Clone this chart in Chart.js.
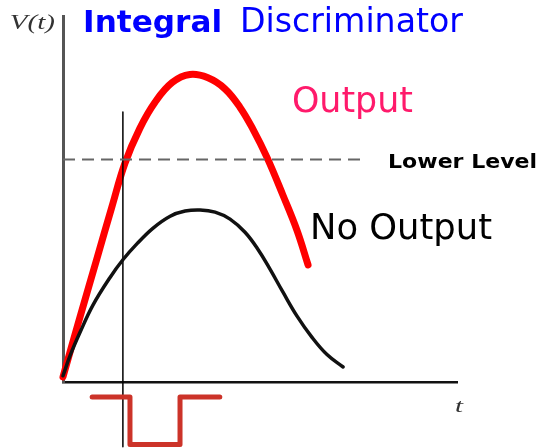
<!DOCTYPE html>
<html>
<head>
<meta charset="utf-8">
<script src="https://cdn.jsdelivr.net/npm/chart.js@4/dist/chart.umd.min.js"></script>
<style>
  html, body { margin: 0; padding: 0; background: #fff; }
  canvas { display: block; }
</style>
</head>
<body>
<canvas id="disc" width="540" height="448"></canvas>
<script>
// time axis 0..100, voltage axis 0..100 (schematic units)
const bigT = [0, 4.3, 8.6, 12.4, 15.7, 19.5, 23.4, 27.7, 32.2, 36.8, 41.1, 44.9, 48.2, 51.8, 55.8, 59.4, 62.2];
const bigV = [1.4, 17.7, 33.7, 47.8, 59.7, 69.3, 76.5, 81.8, 84.0, 83.1, 80.1, 75.1, 69.1, 61.3, 51.1, 41.4, 32.0];

const smallT = [0, 1.8, 4.3, 7.6, 11.9, 15.2, 18.8, 22.8, 27.2, 31.0, 34.8, 38.6, 42.4, 46.2, 49.5, 52.5, 55.8, 59.4, 63.2, 67.0, 71.1];
const smallV = [1.7, 7.2, 13.5, 21.0, 28.5, 33.4, 37.8, 42.0, 45.3, 46.7, 47.0, 46.4, 44.5, 40.9, 36.2, 30.9, 24.6, 18.0, 12.2, 7.5, 4.1];

const levelT = [0, 76.6];
const levelV = [60.8, 60.8];

const markerT = [15.2, 15.2];
const markerV = [73.8, -17.7];

const gateT = [7.4, 17.0, 17.0, 29.7, 29.7, 39.8];
const gateV = [-4.1, -4.1, -17.1, -17.1, -4.1, -4.1];

const pts = (xs, ys) => xs.map((x, i) => ({ x, y: ys[i] }));

// text labels: [text, x, y, width, font, colour]
const labels = [
  ["Integral", 5.1, 95.6, 139, "bold 31px 'DejaVu Sans'", "#0000ff"],
  ["Discriminator", 44.9, 95.6, 223, "33px 'DejaVu Sans'", "#0000ff"],
  ["Output", 58.1, 73.8, 121, "35px 'DejaVu Sans'", "#ff1a6b"],
  ["Lower Level", 82.5, 58.6, 149, "bold 20px 'DejaVu Sans'", "#000"],
  ["No Output", 62.7, 39.2, 182, "35px 'DejaVu Sans'", "#000"],
  ["V(t)", -13.5, 96.4, 45, "italic 22px 'Liberation Serif'", "#333"],
  ["t", 99.5, -8.3, 8, "italic 18px 'Liberation Serif'", "#333"]
];

const textPlugin = {
  id: "textLabels",
  afterDatasetsDraw(chart) {
    const { ctx, scales } = chart;
    labels.forEach(([txt, x, y, w, font, color]) => {
      const px = scales.x.getPixelForValue(x);
      const py = scales.y.getPixelForValue(y);
      ctx.save();
      ctx.font = font;
      ctx.fillStyle = color;
      ctx.textBaseline = "alphabetic";
      const mw = ctx.measureText(txt).width;
      ctx.translate(px, py);
      ctx.scale(w / mw, 1);
      ctx.fillText(txt, 0, 0);
      ctx.restore();
    });
  }
};

const line = (data, color, width, extra) => Object.assign({
  data, borderColor: color, borderWidth: width, pointRadius: 0,
  fill: false, clip: false, borderCapStyle: "round", borderJoinStyle: "round"
}, extra);

new Chart(document.getElementById("disc"), {
  type: "line",
  data: {
    datasets: [
      line(pts(levelT, levelV), "#666", 2, { borderDash: [12, 7], borderCapStyle: "butt", tension: 0 }),
      line(pts(smallT, smallV), "#111", 3.5, { tension: 0.4 }),
      line(pts(gateT, gateV), "#cc3329", 5, { tension: 0 }),
      line(pts(markerT, markerV), "#000", 1.5, { tension: 0, borderCapStyle: "butt" }),
      line(pts(bigT, bigV), "#ff0000", 7, { tension: 0.4 })
    ]
  },
  options: {
    responsive: false,
    animation: false,
    layout: { padding: { left: 63, top: 16, right: 83, bottom: 66 } },
    plugins: { legend: { display: false }, tooltip: { enabled: false } },
    scales: {
      x: {
        type: "linear", min: 0, max: 100,
        ticks: { display: false }, grid: { display: false },
        border: { color: "#111", width: 2.5 },
        afterFit(s) { s.height = 0; }
      },
      y: {
        type: "linear", min: 0, max: 100,
        ticks: { display: false }, grid: { display: false },
        border: { color: "#555", width: 3 },
        afterFit(s) { s.width = 0; }
      }
    }
  },
  plugins: [textPlugin]
});
</script>
</body>
</html>
